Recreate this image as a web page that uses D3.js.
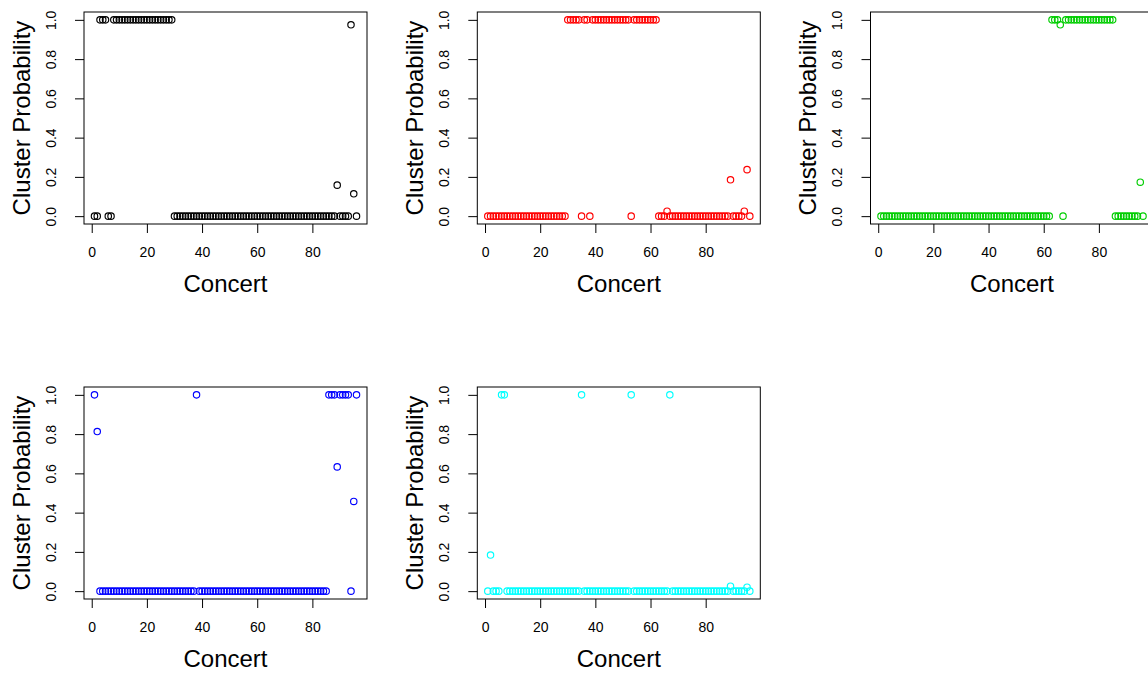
<!DOCTYPE html>
<html>
<head>
<meta charset="utf-8">
<script src="https://cdn.jsdelivr.net/npm/d3@7/dist/d3.min.js"></script>
<style>
  body { margin: 0; background: #fff; }
  svg { display: block; font-family: "Liberation Sans", Arial, Helvetica, sans-serif; }
</style>
</head>
<body>
<div id="chart"></div>
<script>
// cluster membership probability per concert (concerts 1..96), one array per cluster
const cluster1 = [
  0, 0, 1, 1, 1, 0, 0, 1, 1, 1,
  1, 1, 1, 1, 1, 1, 1, 1, 1, 1,
  1, 1, 1, 1, 1, 1, 1, 1, 1, 0,
  0, 0, 0, 0, 0, 0, 0, 0, 0, 0,
  0, 0, 0, 0, 0, 0, 0, 0, 0, 0,
  0, 0, 0, 0, 0, 0, 0, 0, 0, 0,
  0, 0, 0, 0, 0, 0, 0, 0, 0, 0,
  0, 0, 0, 0, 0, 0, 0, 0, 0, 0,
  0, 0, 0, 0, 0, 0, 0, 0, 0.158, 0,
  0, 0, 0, 0.975, 0.114, 0
];
const cluster2 = [
  0, 0, 0, 0, 0, 0, 0, 0, 0, 0,
  0, 0, 0, 0, 0, 0, 0, 0, 0, 0,
  0, 0, 0, 0, 0, 0, 0, 0, 0, 1,
  1, 1, 1, 1, 0, 1, 1, 0, 1, 1,
  1, 1, 1, 1, 1, 1, 1, 1, 1, 1,
  1, 1, 0, 1, 1, 1, 1, 1, 1, 1,
  1, 1, 0, 0, 0, 0.025, 0, 0, 0, 0,
  0, 0, 0, 0, 0, 0, 0, 0, 0, 0,
  0, 0, 0, 0, 0, 0, 0, 0, 0.185, 0,
  0, 0, 0, 0.025, 0.237, 0
];
const cluster3 = [
  0, 0, 0, 0, 0, 0, 0, 0, 0, 0,
  0, 0, 0, 0, 0, 0, 0, 0, 0, 0,
  0, 0, 0, 0, 0, 0, 0, 0, 0, 0,
  0, 0, 0, 0, 0, 0, 0, 0, 0, 0,
  0, 0, 0, 0, 0, 0, 0, 0, 0, 0,
  0, 0, 0, 0, 0, 0, 0, 0, 0, 0,
  0, 0, 1, 1, 1, 0.975, 0, 1, 1, 1,
  1, 1, 1, 1, 1, 1, 1, 1, 1, 1,
  1, 1, 1, 1, 1, 0, 0, 0, 0, 0,
  0, 0, 0, 0, 0.173, 0
];
const cluster4 = [
  1, 0.813, 0, 0, 0, 0, 0, 0, 0, 0,
  0, 0, 0, 0, 0, 0, 0, 0, 0, 0,
  0, 0, 0, 0, 0, 0, 0, 0, 0, 0,
  0, 0, 0, 0, 0, 0, 0, 1, 0, 0,
  0, 0, 0, 0, 0, 0, 0, 0, 0, 0,
  0, 0, 0, 0, 0, 0, 0, 0, 0, 0,
  0, 0, 0, 0, 0, 0, 0, 0, 0, 0,
  0, 0, 0, 0, 0, 0, 0, 0, 0, 0,
  0, 0, 0, 0, 0, 1, 1, 1, 0.633, 1,
  1, 1, 1, 0, 0.457, 1
];
const cluster5 = [
  0, 0.184, 0, 0, 0, 1, 1, 0, 0, 0,
  0, 0, 0, 0, 0, 0, 0, 0, 0, 0,
  0, 0, 0, 0, 0, 0, 0, 0, 0, 0,
  0, 0, 0, 0, 1, 0, 0, 0, 0, 0,
  0, 0, 0, 0, 0, 0, 0, 0, 0, 0,
  0, 0, 1, 0, 0, 0, 0, 0, 0, 0,
  0, 0, 0, 0, 0, 0, 1, 0, 0, 0,
  0, 0, 0, 0, 0, 0, 0, 0, 0, 0,
  0, 0, 0, 0, 0, 0, 0, 0, 0.025, 0,
  0, 0, 0, 0, 0.02, 0
];
const clusterColors = ['#000000', '#ff0000', '#00cd00', '#0000ff', '#00ffff'];
const xTicks = [0, 20, 40, 60, 80];
const yTicks = [0, 0.2, 0.4, 0.6, 0.8, 1.0];
const xLabel = 'Concert';
const yLabel = 'Cluster Probability';

const width = 1148, height = 675;
const panelW = 283, panelH = 212;
const colLeft = [84, 477.3, 870.5];
const rowTop = [12, 387];

const svg = d3.select('#chart').append('svg')
  .attr('width', width)
  .attr('height', height);

const series = [cluster1, cluster2, cluster3, cluster4, cluster5];

series.forEach(function(vals, k) {
  const left = colLeft[k % 3];
  const top = rowTop[Math.floor(k / 3)];
  const n = vals.length;

  // R style 4% axis extension
  const x = d3.scaleLinear()
    .domain([1 - 0.04 * (n - 1), n + 0.04 * (n - 1)])
    .range([0, panelW]);
  const y = d3.scaleLinear()
    .domain([-0.04, 1.04])
    .range([panelH, 0]);

  const g = svg.append('g')
    .attr('transform', 'translate(' + left + ',' + top + ')');

  const xAxis = g.append('g')
    .attr('transform', 'translate(0,' + panelH + ')')
    .call(d3.axisBottom(x).tickValues(xTicks).tickSize(9).tickSizeOuter(0).tickPadding(14));
  xAxis.select('.domain').remove();
  xAxis.selectAll('text')
    .attr('font-size', 14)
    .attr('font-family', '"Liberation Sans", Arial, sans-serif')
    .attr('fill', '#000');

  const yAxis = g.append('g')
    .call(d3.axisLeft(y).tickValues(yTicks).tickFormat(d3.format('.1f')).tickSize(9).tickSizeOuter(0));
  yAxis.select('.domain').remove();
  yAxis.selectAll('text')
    .attr('transform', 'rotate(-90)')
    .attr('x', 0)
    .attr('y', -28.5)
    .attr('dy', 0)
    .attr('text-anchor', 'middle')
    .attr('font-size', 14)
    .attr('font-family', '"Liberation Sans", Arial, sans-serif')
    .attr('fill', '#000');

  g.append('rect')
    .attr('x', 0)
    .attr('y', 0)
    .attr('width', panelW)
    .attr('height', panelH)
    .attr('fill', 'none')
    .attr('stroke', '#000')
    .attr('stroke-width', 1);

  g.selectAll('circle.pt')
    .data(vals)
    .enter()
    .append('circle')
    .attr('class', 'pt')
    .attr('cx', function(d, i) { return x(i + 1); })
    .attr('cy', function(d) { return y(d); })
    .attr('r', 3.2)
    .attr('fill', 'none')
    .attr('stroke', clusterColors[k])
    .attr('stroke-width', 1.15);

  g.append('text')
    .text(xLabel)
    .attr('x', panelW / 2)
    .attr('y', panelH + 67.7)
    .attr('text-anchor', 'middle')
    .attr('font-size', 24)
    .attr('fill', '#000');

  g.append('text')
    .text(yLabel)
    .attr('transform', 'translate(-54.5,' + (panelH / 2) + ') rotate(-90)')
    .attr('text-anchor', 'middle')
    .attr('font-size', 24)
    .attr('fill', '#000');
});
</script>
</body>
</html>
